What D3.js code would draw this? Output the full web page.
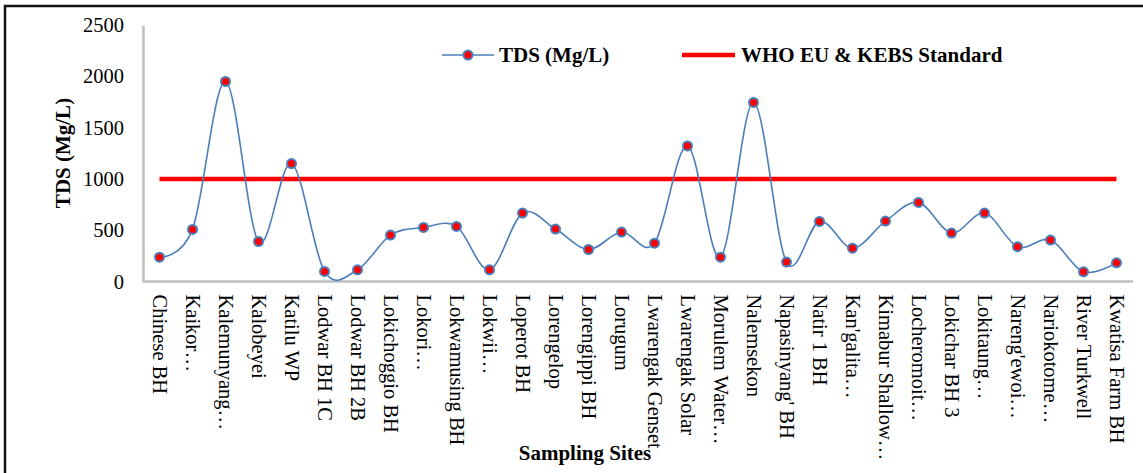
<!DOCTYPE html>
<html>
<head>
<meta charset="utf-8">
<script src="https://cdn.jsdelivr.net/npm/d3@7"></script>
<style>
  body { margin: 0; background: #fff; }
  svg { display: block; font-family: "Liberation Serif", "Times New Roman", serif; }
</style>
</head>
<body>
<svg id="drawing_region"></svg>
<script>
const sites = [
    "Chinese BH", "Kaikor…", "Kalemunyang…", "Kalobeyei", "Katilu WP",
    "Lodwar BH 1C", "Lodwar BH 2B", "Lokichoggio BH", "Lokori…", "Lokwamusing BH",
    "Lokwii…", "Loperot BH", "Lorengelop", "Lorengippi BH", "Lorugum",
    "Lwarengak Genset", "Lwarengak Solar", "Morulem Water…", "Nalemsekon", "Napasinyang' BH",
    "Natir 1 BH", "Kan'galita…", "Kimabur Shallow…", "Locheromoit…", "Lokichar BH 3",
    "Lokitaung…", "Nareng'ewoi…", "Nariokotome…", "River Turkwell", "Kwatisa Farm BH"
];
const tds = [
    237, 508, 1950, 390, 1149,
    98, 114, 452, 527, 537,
    114, 667, 511, 312, 482,
    374, 1321, 237, 1745, 189,
    586, 325, 589, 771, 472,
    667, 339, 404, 94, 182
];
const standard = 1000;
const yTicks = [0, 500, 1000, 1500, 2000, 2500];
const seriesNames = ["TDS (Mg/L)", "WHO EU & KEBS Standard"];

const config = {
    width: 1143,
    height: 473,
    left: 143,
    right: 1133,
    top: 25,
    bottom: 281.5
};

const svg = d3.select('#drawing_region')
    .attr('width', config.width)
    .attr('height', config.height);

// outer frame (only top and left edges fall inside the picture)
svg.append('path')
    .attr('d', 'M5,480 L5,6 L1150,6')
    .attr('fill', 'none')
    .attr('stroke', '#111')
    .attr('stroke-width', 2.5);

const x = d3.scalePoint()
    .domain(sites)
    .range([config.left, config.right])
    .padding(0.5);

const y = d3.scaleLinear()
    .domain([0, 2500])
    .range([config.bottom, config.top]);

// y axis
const yAxis = svg.append('g')
    .attr('transform', `translate(${config.left},0)`)
    .call(d3.axisLeft(y).tickValues(yTicks).tickFormat(d3.format('d')).tickSize(0).tickPadding(19));
yAxis.select('.domain').attr('stroke', '#bfbfbf').attr('stroke-width', 2.5);
yAxis.selectAll('text')
    .style('font-family', '"Liberation Serif", serif')
    .style('font-size', '20.5px')
    .attr('fill', '#000');

// x axis
const xAxis = svg.append('g')
    .attr('transform', `translate(0,${config.bottom})`)
    .call(d3.axisBottom(x).tickSize(0));
xAxis.select('.domain')
    .attr('d', `M${config.left},0H${config.right}`)
    .attr('stroke', '#bfbfbf').attr('stroke-width', 2.5);
xAxis.selectAll('text')
    .style('font-family', '"Liberation Serif", serif')
    .style('font-size', '20.5px')
    .attr('fill', '#000')
    .attr('transform', 'rotate(90)')
    .attr('x', 13)
    .attr('y', 0)
    .attr('dy', '0.33em')
    .attr('text-anchor', 'start');

// standard line
svg.append('path')
    .datum(sites)
    .attr('d', d3.line().x(d => x(d)).y(() => y(standard)))
    .attr('fill', 'none')
    .attr('stroke', '#ff0000')
    .attr('stroke-width', 4.5);

// TDS smoothed line
const points = sites.map((s, i) => ({ site: s, value: tds[i] }));
svg.append('path')
    .datum(points)
    .attr('d', d3.line().x(d => x(d.site)).y(d => y(d.value)).curve(d3.curveCatmullRom.alpha(0)))
    .attr('fill', 'none')
    .attr('stroke', '#4a7ebb')
    .attr('stroke-width', 1.6);

svg.append('g').selectAll('circle')
    .data(points)
    .enter()
    .append('circle')
    .attr('cx', d => x(d.site))
    .attr('cy', d => y(d.value))
    .attr('r', 4.5)
    .attr('fill', '#ff0000')
    .attr('stroke', '#4a7ebb')
    .attr('stroke-width', 2);

// legend
const legendY = 55;
svg.append('line')
    .attr('x1', 442).attr('x2', 494)
    .attr('y1', legendY).attr('y2', legendY)
    .attr('stroke', '#4a7ebb').attr('stroke-width', 1.6);
svg.append('circle')
    .attr('cx', 468).attr('cy', legendY).attr('r', 4.5)
    .attr('fill', '#ff0000').attr('stroke', '#4a7ebb').attr('stroke-width', 2);
svg.append('text')
    .attr('x', 499).attr('y', legendY).attr('dy', '0.35em')
    .attr('font-size', '21px').attr('font-weight', 'bold')
    .text(seriesNames[0]);
svg.append('line')
    .attr('x1', 682).attr('x2', 735)
    .attr('y1', legendY).attr('y2', legendY)
    .attr('stroke', '#ff0000').attr('stroke-width', 4.5);
svg.append('text')
    .attr('x', 741).attr('y', legendY).attr('dy', '0.35em')
    .attr('font-size', '21px').attr('font-weight', 'bold')
    .text(seriesNames[1]);

// axis titles
svg.append('text')
    .attr('transform', 'translate(63,153) rotate(-90)')
    .attr('text-anchor', 'middle')
    .attr('dy', '0.35em')
    .attr('font-size', '21px').attr('font-weight', 'bold')
    .text('TDS (Mg/L)');

svg.append('text')
    .attr('x', 585).attr('y', 453)
    .attr('text-anchor', 'middle')
    .attr('dy', '0.35em')
    .attr('font-size', '21px').attr('font-weight', 'bold')
    .text('Sampling Sites');
</script>
</body>
</html>
